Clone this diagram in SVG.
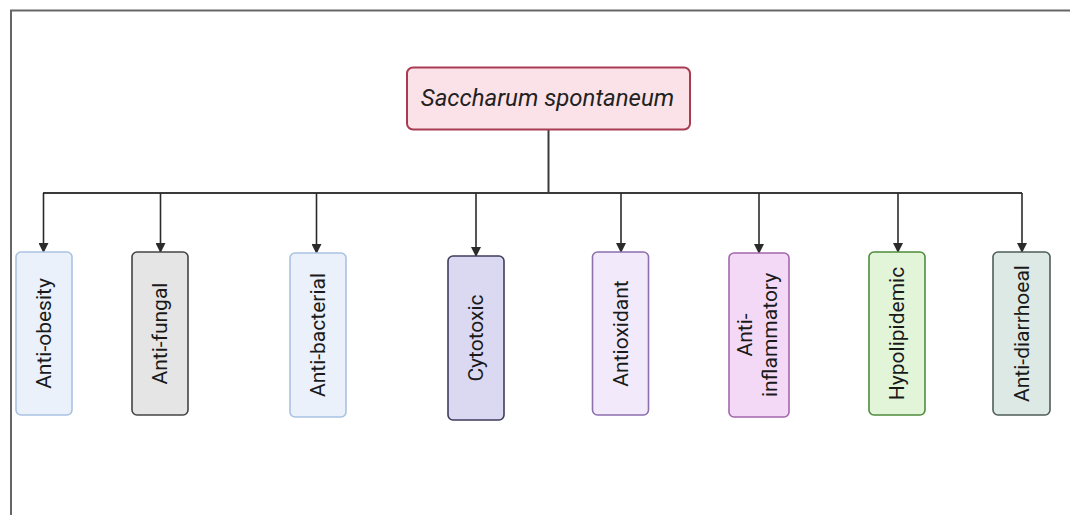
<svg xmlns="http://www.w3.org/2000/svg" width="1070" height="515" viewBox="0 0 1070 515">
<defs>
<marker id="ah" viewBox="0 0 10 10" refX="10" refY="5" markerWidth="10" markerHeight="10" markerUnits="userSpaceOnUse" orient="auto">
<path d="M0,0 L10,5 L0,10 z" fill="#2b2b2b"/>
</marker>
<style>
.frame{stroke:#666;stroke-width:2;fill:none}
.conn{stroke:#3a3a3a;stroke-width:2;fill:none}
.arr{stroke:#2b2b2b;stroke-width:1.6;fill:none;marker-end:url(#ah)}
.lbl{font-family:Roboto,"Liberation Sans",sans-serif;font-size:21px;fill:#1a1a1a;text-anchor:middle}
.title{font-family:Roboto,"Liberation Sans",sans-serif;font-size:24px;font-style:italic;fill:#222;text-anchor:middle}
.box{stroke-width:1.6}
</style>
</defs>
<rect width="1070" height="515" fill="#fff"/>
<path class="frame" d="M11,515 V10.5 H1070"/>
<g id="connectors">
<path class="conn" d="M548.5,130 V193"/>
<path class="conn" d="M43,193 H1022"/>
<path class="arr" d="M43.5,193 V253"/>
<path class="arr" d="M160.5,193 V253"/>
<path class="arr" d="M316.5,193 V254"/>
<path class="arr" d="M476,193 V257"/>
<path class="arr" d="M621,193 V253"/>
<path class="arr" d="M759,193 V254"/>
<path class="arr" d="M898,193 V253"/>
<path class="arr" d="M1022,193 V253"/>
</g>
<g id="root">
<rect x="407" y="67.5" width="283" height="62" rx="6" fill="#fbe2e8" stroke="#a83a52" stroke-width="2"/>
<text class="title" x="547.5" y="106">Saccharum spontaneum</text>
</g>
<g id="n1">
<rect class="box" x="16" y="252" width="56" height="163" rx="5" fill="#eaf1fb" stroke="#a9c2e2"/>
<text class="lbl" transform="translate(51,333.5) rotate(-90)">Anti-obesity</text>
</g>
<g id="n2">
<rect class="box" x="132" y="252" width="56" height="163" rx="5" fill="#e5e5e5" stroke="#444"/>
<text class="lbl" transform="translate(167,333.5) rotate(-90)">Anti-fungal</text>
</g>
<g id="n3">
<rect class="box" x="290" y="253" width="56" height="164" rx="5" fill="#eaf1fb" stroke="#a9c2e2"/>
<text class="lbl" transform="translate(325,335) rotate(-90)">Anti-bacterial</text>
</g>
<g id="n4">
<rect class="box" x="448" y="256" width="56" height="164" rx="5" fill="#dbd9f2" stroke="#3f3c5e"/>
<text class="lbl" transform="translate(483,338) rotate(-90)">Cytotoxic</text>
</g>
<g id="n5">
<rect class="box" x="592.5" y="252" width="56" height="163" rx="5" fill="#f2eafb" stroke="#8d6fae"/>
<text class="lbl" transform="translate(628,333.5) rotate(-90)">Antioxidant</text>
</g>
<g id="n6">
<rect class="box" x="729" y="253" width="60" height="164" rx="5" fill="#f4d9f6" stroke="#a466ad"/>
<text class="lbl" transform="translate(752,335) rotate(-90)">Anti-</text>
<text class="lbl" transform="translate(777,335) rotate(-90)">inflammatory</text>
</g>
<g id="n7">
<rect class="box" x="869" y="252" width="56" height="163" rx="5" fill="#e3f5d9" stroke="#4f8c3c"/>
<text class="lbl" transform="translate(904,333.5) rotate(-90)">Hypolipidemic</text>
</g>
<g id="n8">
<rect class="box" x="993" y="252" width="57" height="163" rx="5" fill="#dde9e5" stroke="#4e5e59"/>
<text class="lbl" transform="translate(1028.5,333.5) rotate(-90)">Anti-diarrhoeal</text>
</g>
</svg>
